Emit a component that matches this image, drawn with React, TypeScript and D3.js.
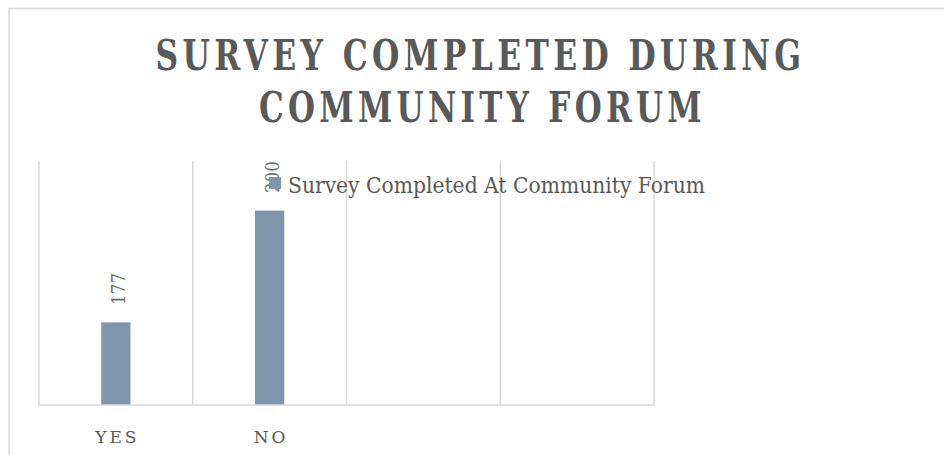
import React from "react";
import * as d3 from "d3";

const categories = ["YES", "NO", "", ""];
const values: (number | null)[] = [177, 200, null, null];
const labels = ["177", "200"];
const seriesName = "Survey Completed At Community Forum";
const titleLines = ["SURVEY COMPLETED DURING", "COMMUNITY FORUM"];
const yDomain = [160, 210];

const W = 944;
const H = 455;
const plot = { left: 39, right: 654, top: 162, bottom: 405 };
const barColor = "#7f97ad";
const gridColor = "#d9d9d9";
const textColor = "#595959";
const serif = "'DejaVu Serif', serif";

export default function App() {
  const x = d3
    .scaleBand<string>()
    .domain(categories.map((c, i) => String(i)))
    .range([plot.left, plot.right])
    .paddingInner(0)
    .paddingOuter(0);
  const y = d3.scaleLinear().domain(yDomain).range([plot.bottom, plot.top]);
  const bw = x.bandwidth();
  const barW = bw * 0.19;
  const boundaries = d3.range(categories.length + 1).map((i) => plot.left + i * bw);

  return (
    <svg
      width={W}
      height={H}
      style={{ position: "absolute", left: 0, top: 0, background: "#fff" }}
      fontFamily={serif}
    >
      <rect x={0} y={0} width={W} height={H} fill="#fff" />
      <rect x={9} y={8.5} width={W + 20} height={H + 20} fill="none" stroke={gridColor} strokeWidth={1.5} />
      {/* title */}
      <text x={480.5} y={70} textAnchor="middle" fontSize={43} fontWeight="bold" fill={textColor}
        letterSpacing={6} textLength={650} lengthAdjust="spacingAndGlyphs">{titleLines[0]}</text>
      <text x={482.5} y={121.5} textAnchor="middle" fontSize={43} fontWeight="bold" fill={textColor}
        letterSpacing={6} textLength={447} lengthAdjust="spacingAndGlyphs">{titleLines[1]}</text>
      {/* vertical gridlines */}
      {boundaries.map((bx, i) => (
        <line key={i} x1={bx} x2={bx} y1={plot.top - 1} y2={plot.bottom} stroke={gridColor} strokeWidth={1.5} />
      ))}
      {/* bars */}
      {values.map((v, i) =>
        v == null ? null : (
          <rect key={i} x={(x(String(i)) as number) + bw / 2 - barW / 2} y={y(v)} width={barW}
            height={plot.bottom - y(v)} fill={barColor} />
        )
      )}
      {/* axis line */}
      <line x1={plot.left - 1} x2={plot.right + 1} y1={plot.bottom} y2={plot.bottom} stroke={gridColor} strokeWidth={1.5} />
      {/* category labels */}
      {categories.map((c, i) =>
        c ? (
          <text key={i} x={(x(String(i)) as number) + bw / 2 + 1.5} y={443} textAnchor="middle" fontSize={17}
            letterSpacing={3} fill={textColor}>{c}</text>
        ) : null
      )}
      {/* data labels */}
      {values.map((v, i) =>
        v == null ? null : (
          <text key={i} transform={`translate(${(x(String(i)) as number) + bw / 2 + 9},${y(v) - 17.5}) rotate(-90)`}
            fontSize={19} fill="#707070" textLength={32} lengthAdjust="spacingAndGlyphs">{labels[i]}</text>
        )
      )}
      {/* legend */}
      <rect x={269} y={177} width={12} height={12} fill={barColor} />
      <text x={288} y={193} fontSize={23} fill={textColor} textLength={417} lengthAdjust="spacingAndGlyphs">{seriesName}</text>
    </svg>
  );
}
